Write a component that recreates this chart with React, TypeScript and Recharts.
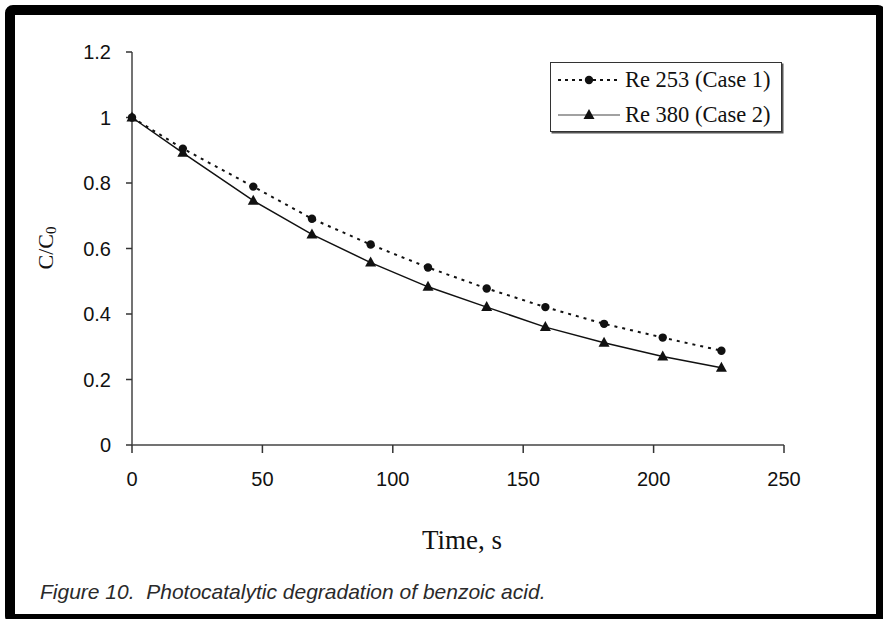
import React from 'react';
import { LineChart, Line, XAxis, YAxis, Label } from 'recharts';

const times = [0, 19.5, 46.5, 69, 91.5, 113.5, 136, 158.5, 181, 203.5, 226];
const case1 = [1.0, 0.905, 0.789, 0.691, 0.612, 0.542, 0.478, 0.421, 0.37, 0.328, 0.288];
const case2 = [1.0, 0.892, 0.746, 0.643, 0.557, 0.483, 0.421, 0.36, 0.312, 0.27, 0.236];
const xTicks = [0, 50, 100, 150, 200, 250];
const yTicks = [0, 0.2, 0.4, 0.6, 0.8, 1, 1.2];
const seriesNames = ['Re 253 (Case 1)', 'Re 380 (Case 2)'];
const xTitle = 'Time, s';
const caption = 'Figure 10.  Photocatalytic degradation of benzoic acid.';

const data = times.map((t, i) => ({ t, c1: case1[i], c2: case2[i] }));

const INK = '#111';
const SERIF = '"Liberation Serif", "Times New Roman", serif';
const SANS = '"Liberation Sans", Arial, sans-serif';

const Triangle = (props: any) => {
  const { cx, cy, index } = props;
  if (cx == null || cy == null) return <g key={index} />;
  return (
    <polygon
      key={index}
      points={`${cx},${cy - 6} ${cx - 5.5},${cy + 4} ${cx + 5.5},${cy + 4}`}
      fill={INK}
    />
  );
};

const Dot = (props: any) => {
  const { cx, cy, index } = props;
  if (cx == null || cy == null) return <g key={index} />;
  return <circle key={index} cx={cx} cy={cy} r={4.2} fill={INK} />;
};

const LegendRow = ({ kind, label, top }: { kind: 'dot' | 'tri'; label: string; top: number }) => (
  <div style={{ position: 'absolute', left: 0, top, height: 24, width: 232 }}>
    <svg width={66} height={24} style={{ position: 'absolute', left: 5, top: 0 }}>
      <line
        x1={2}
        x2={64}
        y1={12}
        y2={12}
        stroke={kind === 'dot' ? INK : '#444'}
        strokeWidth={kind === 'dot' ? 2 : 1.2}
        strokeDasharray={kind === 'dot' ? '3 4' : undefined}
      />
      {kind === 'dot' ? (
        <circle cx={33} cy={12} r={4.2} fill={INK} />
      ) : (
        <polygon points="33,6 27.5,16 38.5,16" fill={INK} />
      )}
    </svg>
    <span
      style={{
        position: 'absolute',
        left: 74,
        top: 0,
        lineHeight: '24px',
        fontFamily: SERIF,
        fontSize: 22.5,
        color: INK,
        whiteSpace: 'nowrap',
      }}
    >
      {label}
    </span>
  </div>
);

export default function App() {
  return (
    <div
      style={{
        position: 'absolute',
        left: 0,
        top: 0,
        width: 883,
        height: 619,
        overflow: 'hidden',
        background: '#fff',
      }}
    >
      <LineChart
        width={883}
        height={619}
        data={data}
        margin={{ top: 52, right: 99, bottom: 134, left: 72 }}
      >
        <XAxis
          dataKey="t"
          type="number"
          domain={[0, 250]}
          ticks={xTicks}
          height={40}
          stroke="#444"
          strokeWidth={1.5}
          tickSize={8}
          tickMargin={19}
          tick={{ fill: INK, fontSize: 20, fontFamily: SANS }}
          tickLine={{ stroke: '#333', strokeWidth: 1.5 }}
        >
          <Label
            content={() => (
              <text
                x={462}
                y={543}
                textAnchor="middle"
                dominantBaseline="middle"
                fontFamily={SERIF}
                fontSize={27}
                fill={INK}
              >
                {xTitle}
              </text>
            )}
          />
        </XAxis>
        <YAxis
          type="number"
          domain={[0, 1.2]}
          ticks={yTicks}
          width={60}
          stroke="#444"
          strokeWidth={1.5}
          tickSize={6}
          tickMargin={15}
          tick={{ fill: INK, fontSize: 20, fontFamily: SANS }}
          tickLine={{ stroke: '#333', strokeWidth: 1.5 }}
        >
          <Label
            content={() => (
              <text
                x={48}
                y={248}
                transform="rotate(-90 48 248)"
                textAnchor="middle"
                dominantBaseline="middle"
                fontFamily={SERIF}
                fontSize={22}
                fill={INK}
              >
                C/C
                <tspan fontSize={15} dy={5}>
                  0
                </tspan>
              </text>
            )}
          />
        </YAxis>
        <Line
          dataKey="c1"
          name={seriesNames[0]}
          stroke={INK}
          strokeWidth={2}
          strokeDasharray="3 5"
          dot={Dot}
          activeDot={false}
          isAnimationActive={false}
        />
        <Line
          dataKey="c2"
          name={seriesNames[1]}
          stroke={INK}
          strokeWidth={1.5}
          dot={Triangle}
          activeDot={false}
          isAnimationActive={false}
        />
      </LineChart>

      <div
        style={{
          position: 'absolute',
          left: 550,
          top: 62,
          width: 232,
          height: 70,
          boxSizing: 'border-box',
          border: '1.5px solid #333',
          boxShadow: '1.5px 1.5px 0 #555',
          background: '#fff',
        }}
      >
        <LegendRow kind="dot" label={seriesNames[0]} top={5} />
        <LegendRow kind="tri" label={seriesNames[1]} top={40} />
      </div>

      <div
        style={{
          position: 'absolute',
          left: 40,
          top: 580,
          lineHeight: '24px',
          fontFamily: SANS,
          fontStyle: 'italic',
          fontSize: 21,
          color: '#2a2a2a',
          whiteSpace: 'pre',
        }}
      >
        {caption}
      </div>

      <div
        style={{
          position: 'absolute',
          left: 5,
          top: 5,
          width: 881,
          height: 619,
          boxSizing: 'border-box',
          border: '10px solid #000',
          borderRadius: 8,
          pointerEvents: 'none',
        }}
      />
    </div>
  );
}
